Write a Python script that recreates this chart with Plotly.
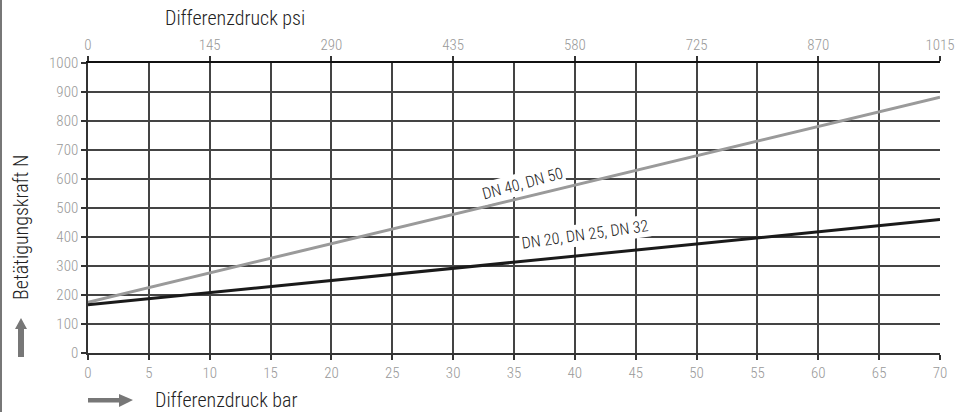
import plotly.graph_objects as go

bar_x = [0, 70]
dn40_50 = [175, 882]
dn20_32 = [166, 460]
psi_ticks = [0, 145, 290, 435, 580, 725, 870, 1015]
bar_ticks = list(range(0, 75, 5))
y_ticks = list(range(0, 1100, 100))

FONT = "Roboto Condensed Light, Roboto Condensed, Liberation Sans Narrow, Liberation Sans, Arial"
L, R, T, B = 88, 26, 63, 59
W, H = 966, 412
pw, ph = W - L - R, H - T - B

def px(x):
    return (x - L) / pw

def py(y):
    return (H - B - y) / ph

fig = go.Figure()
fig.add_trace(go.Scatter(x=bar_x, y=dn40_50, mode="lines",
                         line=dict(color="#9a9a9a", width=3), showlegend=False))
fig.add_trace(go.Scatter(x=bar_x, y=dn20_32, mode="lines",
                         line=dict(color="#1a1a1a", width=3), showlegend=False))
fig.add_trace(go.Scatter(x=[0, 1015], y=[None, None], xaxis="x2", mode="lines",
                         showlegend=False, hoverinfo="skip"))

axis_common = dict(ticks="outside", ticklen=5, tickcolor="#333", tickwidth=1.5,
                   tickfont=dict(family=FONT, size=15, color="#999"),
                   zeroline=False)

fig.update_layout(
    width=W, height=H,
    margin=dict(l=L, r=R, t=T, b=B, autoexpand=False),
    paper_bgcolor="white", plot_bgcolor="white",
    font=dict(family=FONT),
    xaxis=dict(range=[0, 70], tickvals=bar_ticks, showline=True, linecolor="#333",
               linewidth=1.5, showgrid=True, gridcolor="#444", gridwidth=1.5, **axis_common),
    xaxis2=dict(range=[0, 1015], tickvals=psi_ticks, overlaying="x", side="top",
                showline=True, linecolor="#111", linewidth=2, showgrid=False, **axis_common),
    yaxis=dict(range=[0, 1000], tickvals=y_ticks, showline=True, linecolor="#333",
               linewidth=1.5, showgrid=True, gridcolor="#444", gridwidth=1.5, **axis_common),
)

anns = [
    dict(x=35.7, y=586, xref="x", yref="y", text="DN 40, DN 50", showarrow=False,
         xanchor="center", yanchor="middle",
         textangle=-15, bgcolor="white", font=dict(family=FONT, size=16, color="#222")),
    dict(x=40.8, y=410, xref="x", yref="y", text="DN 20, DN 25, DN 32", showarrow=False,
         xanchor="center", yanchor="middle",
         textangle=-8, bgcolor="white", font=dict(family=FONT, size=16, color="#222")),
    dict(x=px(235), y=py(18), xref="paper", yref="paper", text="Differenzdruck psi",
         xanchor="center", yanchor="middle",
         showarrow=False, borderpad=0, font=dict(family=FONT, size=20, color="#222")),
    dict(x=px(154), y=py(400), xref="paper", yref="paper", xanchor="left", yanchor="middle",
         text="Differenzdruck bar", showarrow=False, borderpad=0,
         font=dict(family=FONT, size=20, color="#222")),
    dict(x=px(21), y=py(228), xref="paper", yref="paper", text="Betätigungskraft N",
         xanchor="center", yanchor="middle",
         textangle=-90, showarrow=False, borderpad=0, font=dict(family=FONT, size=20, color="#222")),
]
fig.update_layout(annotations=anns)

shapes = [
    dict(type="line", xref="paper", yref="paper", x0=px(1), x1=px(1), y0=py(0), y1=py(H),
         line=dict(color="#777", width=2)),
    dict(type="path", xref="paper", yref="paper",
         path=f"M {px(88)},{py(398)} L {px(119)},{py(398)} L {px(119)},{py(394)} L {px(133)},{py(400)} "
              f"L {px(119)},{py(407)} L {px(119)},{py(402.5)} L {px(88)},{py(402.5)} Z",
         fillcolor="#777", line=dict(width=0)),
    dict(type="path", xref="paper", yref="paper",
         path=f"M {px(18)},{py(357)} L {px(18)},{py(329)} L {px(15)},{py(329)} L {px(21)},{py(318)} "
              f"L {px(27)},{py(329)} L {px(24)},{py(329)} L {px(24)},{py(357)} Z",
         fillcolor="#777", line=dict(width=0)),
]
fig.update_layout(shapes=shapes)

fig.write_html("out.html", config={"displayModeBar": False},
               post_script="document.body.style.margin='0';document.body.style.padding='0';document.body.style.overflow='hidden';")
